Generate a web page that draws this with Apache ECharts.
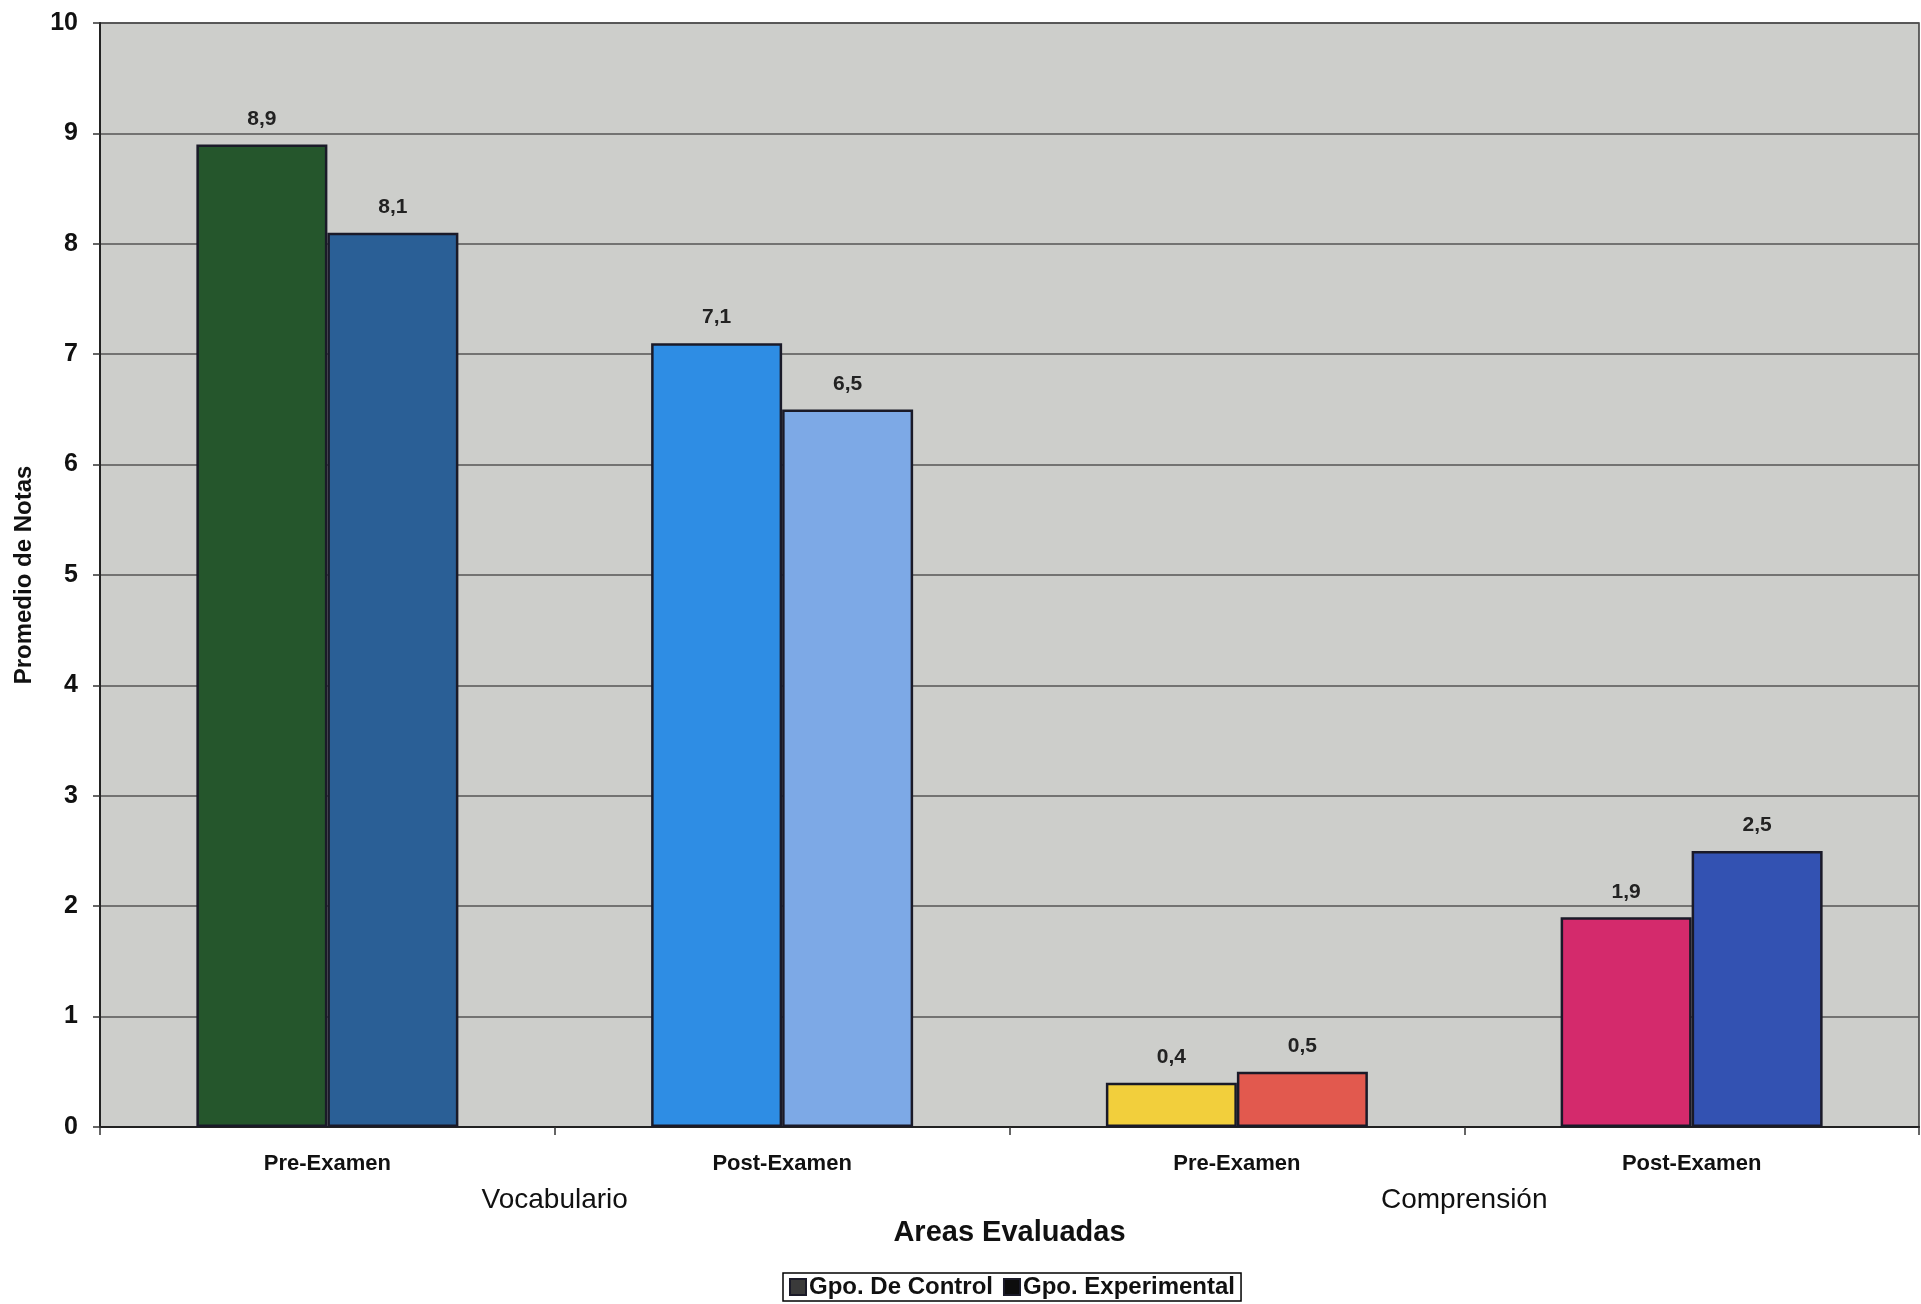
<!DOCTYPE html>
<html>
<head>
<meta charset="utf-8">
<script src="https://cdn.jsdelivr.net/npm/echarts@6/dist/echarts.min.js"></script>
<style>
html,body{margin:0;padding:0;background:#fff;}
#chart{width:1921px;height:1304px;}
</style>
</head>
<body>
<div id="chart"></div>
<script>
const categories = ['Pre-Examen', 'Post-Examen', 'Pre-Examen', 'Post-Examen'];
const groups = ['Vocabulario', 'Comprensión'];
const seriesNames = ['Gpo. De Control', 'Gpo. Experimental'];
const controlValues = [8.9, 7.1, 0.4, 1.9];
const experimentalValues = [8.1, 6.5, 0.5, 2.5];
const controlColors = ['#25562c', '#2e8de4', '#f2cf3c', '#d42a6c'];
const experimentalColors = ['#2a5f96', '#7da9e6', '#e2594e', '#3352b2'];
const yTicks = [0, 1, 2, 3, 4, 5, 6, 7, 8, 9, 10];

const FONT = 'Liberation Sans, Arial, sans-serif';
const chart = echarts.init(document.getElementById('chart'));

function makeData(values, colors) {
  return values.map((v, i) => ({ value: v, itemStyle: { color: colors[i] } }));
}

const labelCfg = {
  show: true,
  position: 'top',
  distance: 15,
  fontFamily: FONT,
  fontWeight: 'bold',
  fontSize: 21,
  color: '#222',
  formatter: p => String(p.value).replace('.', ',')
};

chart.setOption({
  animation: false,
  backgroundColor: '#ffffff',
  grid: {
    left: 100, right: 2, top: 23, bottom: 177,
    show: true, backgroundColor: '#cdcecb', borderColor: '#3a3a3a', borderWidth: 1.5
  },
  legend: {
    left: 783, top: 1273,
    padding: [2, 6, 2, 6],
    borderColor: '#000', borderWidth: 1.5,
    backgroundColor: '#fff',
    itemWidth: 16, itemHeight: 16, itemGap: 10,
    icon: 'rect',
    textStyle: { fontFamily: FONT, fontWeight: 'bold', fontSize: 24, color: '#111', padding: [0, 0, 0, -2] },
    data: [
      { name: seriesNames[0], itemStyle: { color: '#3a3a3a' } },
      { name: seriesNames[1], itemStyle: { color: '#0d0d0d' } }
    ]
  },
  xAxis: [
    {
      type: 'category',
      data: categories,
      gridIndex: 0,
      position: 'bottom',
      axisLine: { lineStyle: { color: '#222', width: 2 } },
      axisTick: { show: true, length: 8, lineStyle: { color: '#333', width: 1.5 } },
      axisLabel: { margin: 26, fontFamily: FONT, fontWeight: 'bold', fontSize: 22, color: '#111' },
      name: 'Areas Evaluadas',
      nameLocation: 'middle',
      nameGap: 91,
      nameTextStyle: { fontFamily: FONT, fontWeight: 'bold', fontSize: 29, color: '#111' }
    },
    {
      type: 'category',
      data: groups,
      gridIndex: 0,
      position: 'bottom',
      axisLine: { show: false },
      axisTick: { show: false },
      splitLine: { show: false },
      axisLabel: { margin: 59, fontFamily: FONT, fontSize: 28, color: '#111' }
    }
  ],
  yAxis: {
    type: 'value',
    min: 0, max: 10, interval: 1,
    axisLine: { show: true, lineStyle: { color: '#222', width: 2 } },
    axisTick: { show: true, length: 7, lineStyle: { color: '#333', width: 1.5 } },
    axisLabel: {
      margin: 22, fontFamily: FONT, fontWeight: 'bold', fontSize: 25, color: '#111',
      formatter: v => yTicks.includes(v) ? String(v) : ''
    },
    splitLine: { show: true, lineStyle: { color: '#555', width: 1.5 } },
    name: 'Promedio de Notas',
    nameLocation: 'middle',
    nameGap: 64,
    nameTextStyle: { fontFamily: FONT, fontWeight: 'bold', fontSize: 24, color: '#111' }
  },
  series: [
    {
      name: seriesNames[0],
      type: 'bar',
      xAxisIndex: 0,
      barWidth: 131,
      barGap: '0%',
      itemStyle: { borderColor: '#1a1a28', borderWidth: 2.5 },
      label: labelCfg,
      data: makeData(controlValues, controlColors)
    },
    {
      name: seriesNames[1],
      type: 'bar',
      xAxisIndex: 0,
      barWidth: 131,
      barGap: '0%',
      itemStyle: { borderColor: '#1a1a28', borderWidth: 2.5 },
      label: labelCfg,
      data: makeData(experimentalValues, experimentalColors)
    }
  ]
});
</script>
</body>
</html>
